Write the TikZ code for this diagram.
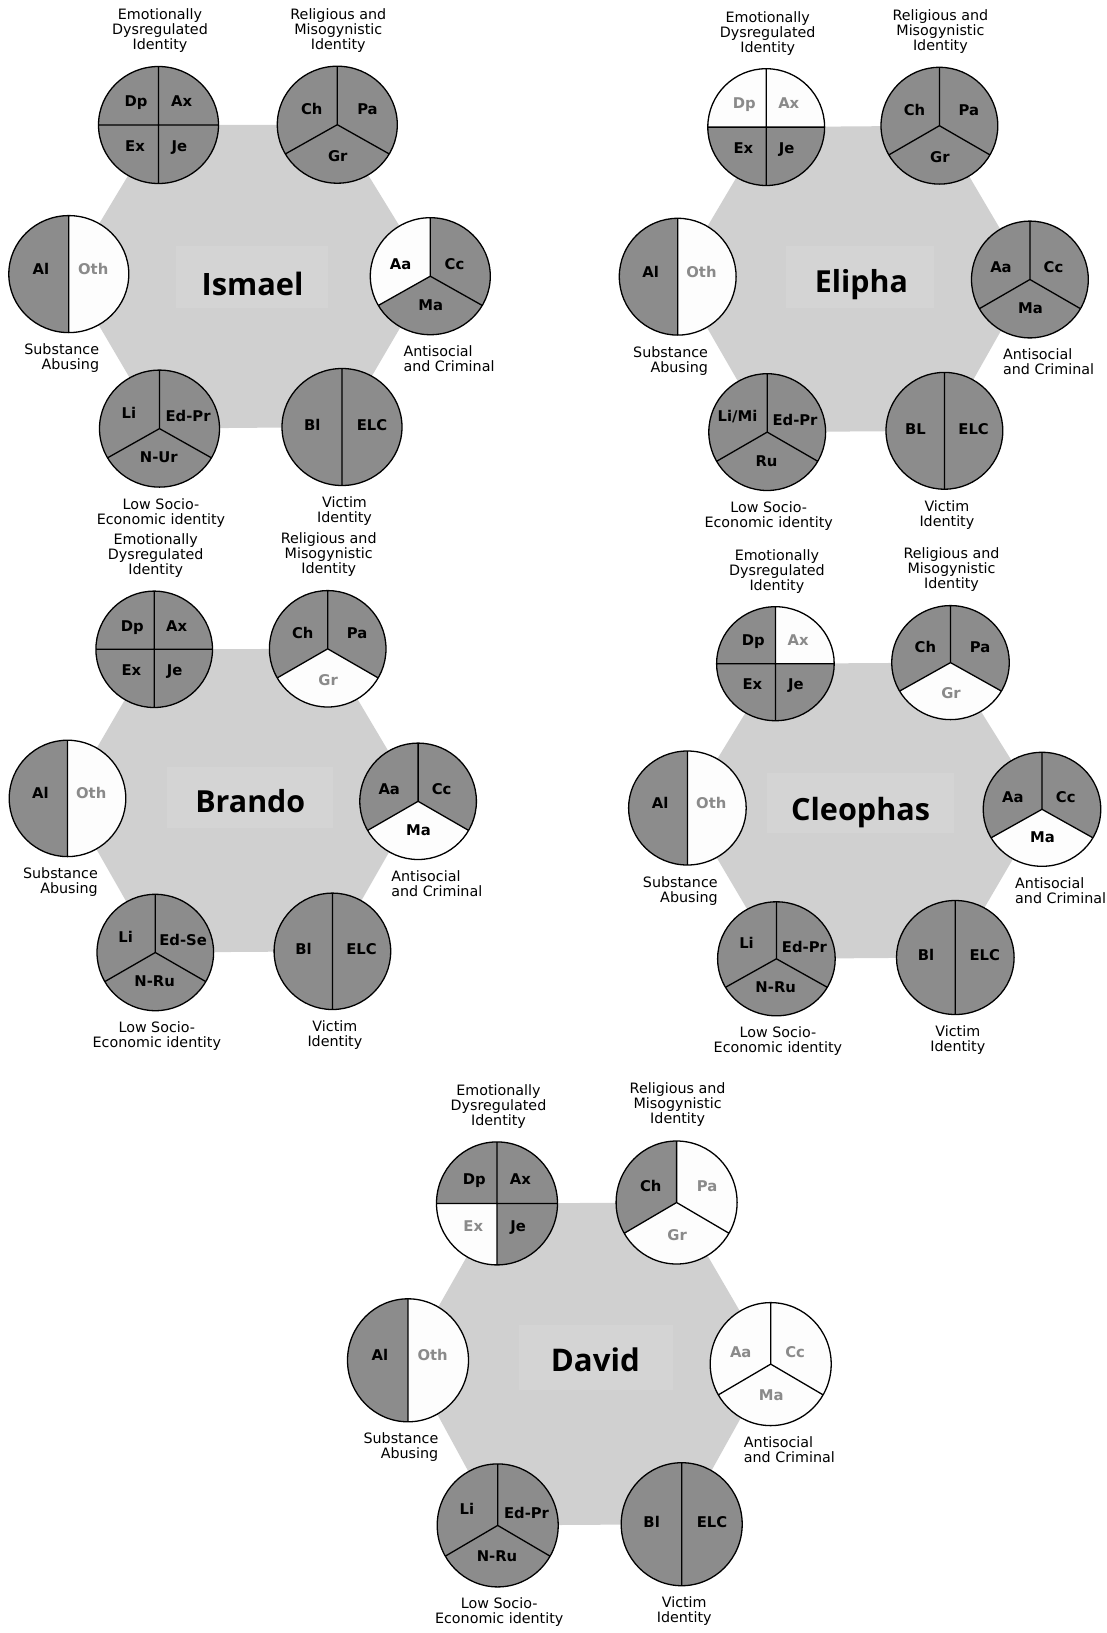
\documentclass[tikz,border=0pt]{standalone}
\usepackage{fontspec}
\usepackage{graphicx}
\setmainfont{DejaVu Sans}
\newfontfamily\namefont{Open Sans}

\definecolor{hexgray}{HTML}{D0D0D0}
\definecolor{namegray}{HTML}{D4D4D4}
\definecolor{slicedark}{HTML}{8C8C8C}
\definecolor{slicelight}{HTML}{FDFDFD}
\definecolor{mutedtext}{HTML}{8A8A8A}

\tikzset{
  % slice states: D = present (dark), W = absent (white, muted label), B = white slice, black label
  fD/.style={fill=slicedark}, fW/.style={fill=slicelight}, fB/.style={fill=slicelight},
  tD/.style={text=black}, tW/.style={text=mutedtext}, tB/.style={text=black},
  pieline/.style={draw=black, line width=1.3pt},
  inlab/.style={font=\fontsize{14.8}{14.8}\selectfont\bfseries, anchor=base, inner sep=0pt},
  outlab/.style={font=\fontsize{14.3}{15}\selectfont, inner sep=0pt},
  namelab/.style={font=\namefont\bfseries\fontsize{30}{30}\selectfont, anchor=base, inner sep=0pt},
  piescale/.style={xscale={\rx/60}, yscale={\ry/60}},
  % label positions inside the pies (unit radius 60)
  rml/.style={at={(-25.6,-10.6)}}, rmr/.style={at={(30.2,-10.6)}}, rmb/.style={at={(0.5,37.4)}},
  acl/.style={at={(-29.7,-6.9)}},  acr/.style={at={(24.2,-6.9)}},  acb/.style={at={(0.5,35.3)}},
  lsel/.style={at={(-30.5,-10.4)}}, lser/.style={at={(28.6,-6.9)}}, lseb/.style={at={(-0.7,35)}},
  sal/.style={at={(-27.8,0.4)}},  sar/.style={at={(24.4,0.4)}},
  vl/.style={at={(-29.8,3.6)}},    vr/.style={at={(30,3.6)}},
}

% one filled sector of a pie: #1 state, #2 start angle, #3 end angle
\newcommand\sector[3]{\fill[f#1] (0,0) -- (#2:60) arc[start angle=#2, end angle=#3, radius=60] -- cycle;}

% four-part pie: #1 prefix, #2 centre, #3..#6 states of Dp, Ax, Ex, Je
\newcommand\quadpie[6]{%
  \begin{scope}[shift={#2}, piescale]
    \sector{#3}{180}{270}\sector{#4}{270}{360}\sector{#5}{90}{180}\sector{#6}{0}{90}
    \draw[pieline] (-60,0) -- (60,0) (0,-60) -- (0,60) (0,0) circle[radius=60];
    \node[inlab,t#3] (#1-dp) at (-22.5,-18.8) {Dp};
    \node[inlab,t#4] (#1-ax) at (23.2,-18.8) {Ax};
    \node[inlab,t#5] (#1-ex) at (-23.5,27.2) {Ex};
    \node[inlab,t#6] (#1-je) at (21,27.2) {Je};
  \end{scope}}

% three-part pie: #1 prefix, #2 centre, #3 kind, #4..#6 states (left, right, bottom), #7..#9 labels
\newcommand\tripie[9]{%
  \begin{scope}[shift={#2}, piescale]
    \sector{#4}{150}{270}\sector{#5}{-90}{30}\sector{#6}{30}{150}
    \draw[pieline] (0,0) -- (270:60) (0,0) -- (150:60) (0,0) -- (30:60) (0,0) circle[radius=60];
    \node[inlab,t#4,#3l] (#1-l) {#7};
    \node[inlab,t#5,#3r] (#1-r) {#8};
    \node[inlab,t#6,#3b] (#1-b) {#9};
  \end{scope}}

% two-part pie: #1 prefix, #2 centre, #3 kind, #4 #5 states, #6 #7 labels
\newcommand\halfpie[7]{%
  \begin{scope}[shift={#2}, piescale]
    \sector{#4}{90}{270}\sector{#5}{-90}{90}
    \draw[pieline] (0,-60) -- (0,60) (0,0) circle[radius=60];
    \node[inlab,t#4,#3l] (#1-l) {#6};
    \node[inlab,t#5,#3r] (#1-r) {#7};
  \end{scope}}

% the gray hexagon joining the six pie centres
\newcommand\hexback[1]{\fill[hexgray] (#1-ed) -- (#1-rm) -- (#1-ac) -- (#1-v) -- (#1-lse) -- (#1-sa) -- cycle;}

% captions around the six pies (\ry = vertical pie radius)
\newcommand\captions[1]{%
  \node[outlab, align=center, anchor=south] (#1-edc) at ([xshift=1.5pt,yshift=\ry pt+13.5pt]#1-ed) {Emotionally\\Dysregulated\\Identity};
  \node[outlab, align=center, anchor=south] (#1-rmc) at ([xshift=1pt,yshift=\ry pt+14pt]#1-rm) {Religious and\\Misogynistic\\Identity};
  \node[outlab, align=right, anchor=north east] (#1-sac) at ([xshift=30.5pt,yshift=-\ry pt-11pt]#1-sa) {Substance\\Abusing};
  \node[outlab, align=left, anchor=north west] (#1-acc) at ([xshift=-27pt,yshift=-\ry pt-11pt]#1-ac) {Antisocial\\and Criminal};
  \node[outlab, align=center, anchor=north] (#1-lsec) at ([xshift=1.5pt,yshift=-\ry pt-11pt]#1-lse) {Low Socio-\\Economic identity};
  \node[outlab, align=center, anchor=north] (#1-vc) at ([xshift=2.5pt,yshift=-\ry pt-11pt]#1-v) {Victim\\Identity};
}

\begin{document}
\begin{tikzpicture}[x=1pt, y=-1pt]
\useasboundingbox (0,0) rectangle (1107,1633);
\fill[white] (0,0) rectangle (1107,1633);

% ---------------- Ismael ----------------
\begin{scope}
  \def\rx{60}\def\ry{58.5}
  \coordinate (is-ed) at (158.5,125);   \coordinate (is-rm) at (337.3,124.7);
  \coordinate (is-sa) at (68.8,274.1);  \coordinate (is-ac) at (430.3,276.2);
  \coordinate (is-lse) at (159.5,428.6); \coordinate (is-v) at (342,427);
  \hexback{is}
  \fill[namegray] (176,245.9) rectangle (328,307.9);
  \node[namelab] (is-name) at (252.6,295.2) {\resizebox{102pt}{!}{Ismael}};
  \quadpie{is-edp}{(is-ed)}{D}{D}{D}{D}
  \tripie{is-rmp}{(is-rm)}{rm}{D}{D}{D}{Ch}{Pa}{Gr}
  \halfpie{is-sap}{(is-sa)}{sa}{D}{W}{Al}{Oth}
  \tripie{is-acp}{(is-ac)}{ac}{B}{D}{D}{Aa}{Cc}{Ma}
  \tripie{is-lsep}{(is-lse)}{lse}{D}{D}{D}{Li}{Ed-Pr}{N-Ur}
  \halfpie{is-vp}{(is-v)}{v}{D}{D}{Bl}{ELC}
  \captions{is}
\end{scope}

% ---------------- Elipha ----------------
\begin{scope}
  \def\rx{58.4}\def\ry{58.4}
  \coordinate (el-ed) at (766.2,127.1);  \coordinate (el-rm) at (939.4,125.7);
  \coordinate (el-sa) at (677.7,276.7);  \coordinate (el-ac) at (1029.9,279.5);
  \coordinate (el-lse) at (767.2,432.1); \coordinate (el-v) at (944.4,430.8);
  \hexback{el}
  \fill[namegray] (786.1,245.9) rectangle (933.6,307.9);
  \node[namelab] (el-name) at (861.4,292.7) {\resizebox{93pt}{!}{Elipha}};
  \quadpie{el-edp}{(el-ed)}{W}{W}{D}{D}
  \tripie{el-rmp}{(el-rm)}{rm}{D}{D}{D}{Ch}{Pa}{Gr}
  \halfpie{el-sap}{(el-sa)}{sa}{D}{W}{Al}{Oth}
  \tripie{el-acp}{(el-ac)}{ac}{D}{D}{D}{Aa}{Cc}{Ma}
  \tripie{el-lsep}{(el-lse)}{lse}{D}{D}{D}{Li/Mi}{Ed-Pr}{Ru}
  \halfpie{el-vp}{(el-v)}{v}{D}{D}{BL}{ELC}
  \captions{el}
\end{scope}

% ---------------- Brando ----------------
\begin{scope}
  \def\rx{58.3}\def\ry{58.2}
  \coordinate (br-ed) at (154.2,649.3);  \coordinate (br-rm) at (327.7,648.8);
  \coordinate (br-sa) at (67.5,798.4);   \coordinate (br-ac) at (418.1,801.3);
  \coordinate (br-lse) at (155.3,952.5); \coordinate (br-v) at (332.4,951.3);
  \hexback{br}
  \fill[namegray] (166.7,766.7) rectangle (332.7,827.6);
  \node[namelab] (br-name) at (250.3,812.3) {\resizebox{110pt}{!}{Brando}};
  \quadpie{br-edp}{(br-ed)}{D}{D}{D}{D}
  \tripie{br-rmp}{(br-rm)}{rm}{D}{D}{W}{Ch}{Pa}{Gr}
  \halfpie{br-sap}{(br-sa)}{sa}{D}{W}{Al}{Oth}
  \tripie{br-acp}{(br-ac)}{ac}{D}{D}{B}{Aa}{Cc}{Ma}
  \tripie{br-lsep}{(br-lse)}{lse}{D}{D}{D}{Li}{Ed-Se}{N-Ru}
  \halfpie{br-vp}{(br-v)}{v}{D}{D}{Bl}{ELC}
  \captions{br}
\end{scope}

% ---------------- Cleophas ----------------
\begin{scope}
  \def\rx{58.8}\def\ry{57}
  \coordinate (cl-ed) at (775.4,663.7);  \coordinate (cl-rm) at (950.5,662.6);
  \coordinate (cl-sa) at (687.4,808);    \coordinate (cl-ac) at (1042,809.3);
  \coordinate (cl-lse) at (776.4,958.8); \coordinate (cl-v) at (955.3,957.5);
  \hexback{cl}
  \fill[namegray] (766.5,773.3) rectangle (953.8,833.3);
  \node[namelab] (cl-name) at (860.6,820) {\resizebox{139pt}{!}{Cleophas}};
  \quadpie{cl-edp}{(cl-ed)}{D}{W}{D}{D}
  \tripie{cl-rmp}{(cl-rm)}{rm}{D}{D}{W}{Ch}{Pa}{Gr}
  \halfpie{cl-sap}{(cl-sa)}{sa}{D}{W}{Al}{Oth}
  \tripie{cl-acp}{(cl-ac)}{ac}{D}{D}{B}{Aa}{Cc}{Ma}
  \tripie{cl-lsep}{(cl-lse)}{lse}{D}{D}{D}{Li}{Ed-Pr}{N-Ru}
  \halfpie{cl-vp}{(cl-v)}{v}{D}{D}{Bl}{ELC}
  \captions{cl}
\end{scope}

% ---------------- David ----------------
\begin{scope}
  \def\rx{60.5}\def\ry{61.5}
  \coordinate (da-ed) at (497,1203.4);   \coordinate (da-rm) at (676.6,1202.5);
  \coordinate (da-sa) at (408,1360.3);   \coordinate (da-ac) at (770.7,1364.1);
  \coordinate (da-lse) at (497.7,1525.4); \coordinate (da-v) at (681.7,1524.2);
  \hexback{da}
  \fill[namegray] (519,1325) rectangle (673.3,1389.6);
  \node[namelab] (da-name) at (595.3,1371.6) {\resizebox{89pt}{!}{David}};
  \quadpie{da-edp}{(da-ed)}{D}{D}{W}{D}
  \tripie{da-rmp}{(da-rm)}{rm}{D}{W}{W}{Ch}{Pa}{Gr}
  \halfpie{da-sap}{(da-sa)}{sa}{D}{W}{Al}{Oth}
  \tripie{da-acp}{(da-ac)}{ac}{W}{W}{W}{Aa}{Cc}{Ma}
  \tripie{da-lsep}{(da-lse)}{lse}{D}{D}{D}{Li}{Ed-Pr}{N-Ru}
  \halfpie{da-vp}{(da-v)}{v}{D}{D}{Bl}{ELC}
  \captions{da}
\end{scope}
\end{tikzpicture}
\end{document}
